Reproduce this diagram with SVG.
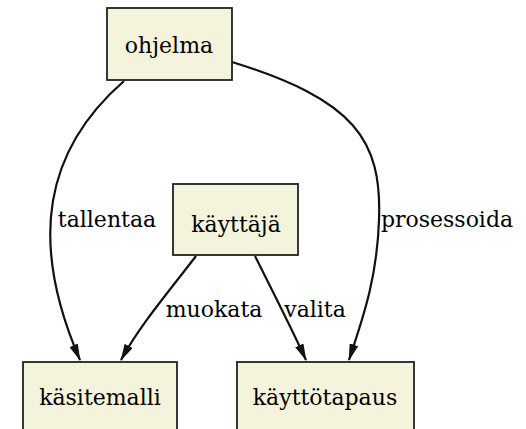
<svg xmlns="http://www.w3.org/2000/svg" width="526" height="429" viewBox="0 0 526 429">
<style>
.box{fill:#f4f4dc;stroke:#222;stroke-width:1.8}
.t{font-family:"DejaVu Serif","Liberation Serif",serif;font-size:22px;fill:#000;text-anchor:middle}
.e{fill:none;stroke:#111;stroke-width:2.2}
</style>
<defs>
<marker id="ah" markerWidth="17" markerHeight="9" refX="16" refY="4.5" orient="auto" markerUnits="userSpaceOnUse">
<path d="M0,0 L17,4.5 L0,9 z" fill="#111"/>
</marker>
</defs>
<rect width="526" height="429" fill="#fff"/>
<g id="edges">
<path class="e" d="M124,81 C45,150 28,240 80,360" marker-end="url(#ah)"/>
<path class="e" d="M232,62 C355,100 382,140 379,220 C377,280 362,320 349,360" marker-end="url(#ah)"/>
<path class="e" d="M196,256 C170,290 140,325 121,360" marker-end="url(#ah)"/>
<path class="e" d="M255,256 C272,290 290,325 306,360" marker-end="url(#ah)"/>
<text class="t" x="107" y="227">tallentaa</text>
<text class="t" x="447" y="227">prosessoida</text>
<text class="t" x="214" y="317">muokata</text>
<text class="t" x="315" y="317">valita</text>
</g>
<g id="ohjelma"><rect class="box" x="107" y="8" width="125" height="72"/><text class="t" x="169" y="53">ohjelma</text></g>
<g id="kayttaja"><rect class="box" x="173" y="184" width="125" height="71"/><text class="t" x="236" y="232">käyttäjä</text></g>
<g id="kasitemalli"><rect class="box" x="23" y="362" width="154" height="80"/><text class="t" x="100" y="405">käsitemalli</text></g>
<g id="kayttotapaus"><rect class="box" x="237" y="362" width="177" height="80"/><text class="t" x="325" y="405">käyttötapaus</text></g>
</svg>
